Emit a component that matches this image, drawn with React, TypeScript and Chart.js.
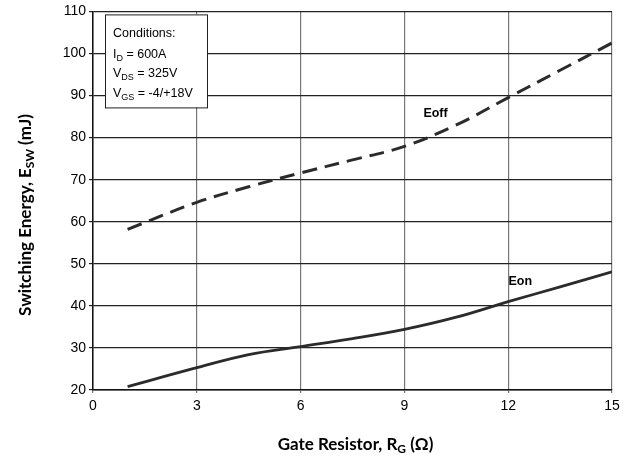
import React, { useEffect, useRef } from "react";
import { Chart, registerables } from "chart.js";

Chart.register(...registerables);

const rg = [1, 3, 4.5, 6, 7.5, 9, 10.5, 12, 13.5, 15];
const eoff = [58.2, 64.6, 68.3, 71.6, 74.7, 77.9, 83.0, 89.5, 96, 102.5];
const eon = [20.8, 25.3, 28.4, 30.3, 32.2, 34.4, 37.3, 41, 44.5, 48.1];
const xTicks = [0, 3, 6, 9, 12, 15];
const yTicks = [20, 30, 40, 50, 60, 70, 80, 90, 100, 110];
const conditions = [
  [{ t: "Conditions:" }],
  [{ t: "I" }, { t: "D", sub: true }, { t: " = 600A" }],
  [{ t: "V" }, { t: "DS", sub: true }, { t: " = 325V" }],
  [{ t: "V" }, { t: "GS", sub: true }, { t: " = -4/+18V" }],
];

type Run = { t: string; sub?: boolean };

function drawRuns(ctx: CanvasRenderingContext2D, runs: Run[], x: number, y: number, size: number, weight: string, family: string, align: "left" | "center") {
  const subSize = Math.round(size * 0.72);
  let total = 0;
  const widths = runs.map((r) => {
    ctx.font = `${weight} ${r.sub ? subSize : size}px ${family}`;
    const w = ctx.measureText(r.t).width;
    total += w;
    return w;
  });
  let cx = align === "center" ? x - total / 2 : x;
  runs.forEach((r, i) => {
    ctx.font = `${weight} ${r.sub ? subSize : size}px ${family}`;
    ctx.textAlign = "left";
    ctx.textBaseline = "alphabetic";
    ctx.fillText(r.t, cx, r.sub ? y + size * 0.2 : y);
    cx += widths[i];
  });
}

const overlay = {
  id: "overlay",
  afterDraw(chart: any) {
    const { ctx, chartArea, scales } = chart;
    const xs = scales.x;
    const ys = scales.y;
    ctx.save();
    // conditions box
    const bx = chartArea.left + 12;
    const by = chartArea.top + 3;
    ctx.fillStyle = "#fff";
    ctx.fillRect(bx, by, 102, 93);
    ctx.strokeStyle = "#222";
    ctx.lineWidth = 1;
    ctx.strokeRect(bx + 0.5, by + 0.5, 102, 93);
    ctx.fillStyle = "#000";
    const baselines = [23, 44, 63, 83];
    conditions.forEach((runs, i) => {
      drawRuns(ctx, runs as Run[], bx + 8, by + baselines[i], 12.5, "normal", "'Liberation Sans', Arial, sans-serif", "left");
    });
    // series labels
    ctx.font = "bold 12.5px 'Liberation Sans', Arial, sans-serif";
    ctx.textAlign = "center";
    ctx.textBaseline = "middle";
    ctx.fillText("Eoff", xs.getPixelForValue(9.9), ys.getPixelForValue(85.7));
    ctx.fillText("Eon", xs.getPixelForValue(12.35), ys.getPixelForValue(45.7));
    // axis titles
    const fam = "Lato, 'Open Sans', sans-serif";
    drawRuns(ctx, [{ t: "Gate Resistor, R" }, { t: "G", sub: true }, { t: " (Ω)" }], (chartArea.left + chartArea.right) / 2 + 3, 450, 17, "bold", fam, "center");
    ctx.save();
    ctx.translate(31, 215);
    ctx.rotate(-Math.PI / 2);
    drawRuns(ctx, [{ t: "Switching Energy, E" }, { t: "SW", sub: true }, { t: " (mJ)" }], 0, 0, 17, "bold", fam, "center");
    ctx.restore();
    ctx.restore();
  },
};

export default function App() {
  const ref = useRef<HTMLCanvasElement>(null);
  useEffect(() => {
    if (!ref.current) return;
    const tickFont = { family: "'Liberation Sans', Arial, sans-serif", size: 14 };
    const chart = new Chart(ref.current, {
      type: "line",
      data: {
        datasets: [
          {
            label: "Eoff",
            data: rg.map((x, i) => ({ x, y: eoff[i] })),
            borderColor: "#2b2b2b",
            borderWidth: 3,
            borderDash: [15, 8],
            pointRadius: 0,
            tension: 0.35,
          },
          {
            label: "Eon",
            data: rg.map((x, i) => ({ x, y: eon[i] })),
            borderColor: "#2b2b2b",
            borderWidth: 2.8,
            pointRadius: 0,
            tension: 0.35,
          },
        ],
      },
      options: {
        animation: false,
        responsive: false,
        layout: { padding: { top: 10, right: 13, left: 0, bottom: 0 } },
        plugins: { legend: { display: false }, tooltip: { enabled: false } },
        scales: {
          x: {
            type: "linear",
            min: 0,
            max: 15,
            afterBuildTicks: (s: any) => {
              s.ticks = xTicks.map((v) => ({ value: v }));
            },
            afterFit: (s: any) => {
              s.height = 74;
            },
            ticks: { color: "#000", font: tickFont, padding: 5 },
            grid: { color: "#777", lineWidth: 1.2, tickLength: 3 },
            border: { color: "#111", width: 1.5 },
          },
          y: {
            type: "linear",
            min: 20,
            max: 110,
            afterBuildTicks: (s: any) => {
              s.ticks = yTicks.map((v) => ({ value: v }));
            },
            afterFit: (s: any) => {
              s.width = 93;
            },
            ticks: { color: "#000", font: tickFont, padding: 3 },
            grid: { color: "#222", lineWidth: 1.2, tickLength: 4 },
            border: { color: "#111", width: 1.5 },
          },
        },
      },
      plugins: [overlay],
    } as any);
    return () => chart.destroy();
  }, []);
  return <canvas ref={ref} width={625} height={464} style={{ display: "block", position: "absolute", left: 0, top: 0 }} />;
}
